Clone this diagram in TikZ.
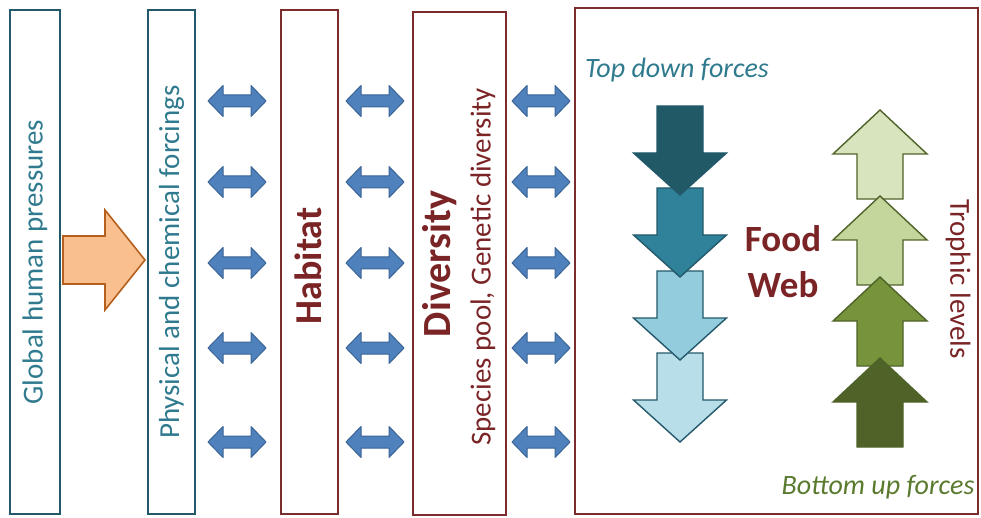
\documentclass[tikz,border=0pt]{standalone}
\usepackage{fontspec}
\setmainfont{Carlito}
\definecolor{boxteal}{HTML}{23596A}
\definecolor{txtteal}{HTML}{2F7A8E}
\definecolor{boxred}{HTML}{7B2C2C}
\definecolor{txtred}{HTML}{7A2426}
\definecolor{dblfill}{HTML}{4F81BD}
\definecolor{dblline}{HTML}{3A6496}
\definecolor{orfill}{HTML}{F9BF8F}
\definecolor{orline}{HTML}{B5601E}
\definecolor{dA}{HTML}{215967}
\definecolor{dB}{HTML}{2F8299}
\definecolor{dC}{HTML}{93CDDD}
\definecolor{dD}{HTML}{B8DFE9}
\definecolor{uA}{HTML}{D8E4BD}
\definecolor{uB}{HTML}{C3D69B}
\definecolor{uC}{HTML}{77933C}
\definecolor{uD}{HTML}{4F6228}
\definecolor{txtgreen}{HTML}{5A7A2E}
\begin{document}
\begin{tikzpicture}[x=1pt,y=-1pt,
  tealbox/.style={draw=boxteal, line width=2.4pt, inner sep=0pt, text=txtteal, font=\fontsize{29}{34}\selectfont},
  redbox/.style={draw=boxred, line width=2.4pt, inner sep=0pt},
  lbl/.style={inner sep=0pt},
  dbl/.pic={\draw[fill=dblfill, draw=dblline, line width=1pt, line join=round]
    (-29,0) -- (-14,-15.5) -- (-14,-6) -- (14,-6) -- (14,-15.5) -- (29,0)
    -- (14,15.5) -- (14,6) -- (-14,6) -- (-14,15.5) -- cycle;},
  darr/.pic={\draw[fill=#1, draw=boxteal, line width=1.4pt, line join=miter]
    (-23,0) -- (23,0) -- (23,47) -- (46.5,47) -- (0,89) -- (-46.5,47) -- (-23,47) -- cycle;},
  uarr/.pic={\draw[fill=#1, draw=uD, line width=1.4pt, line join=miter]
    (0,0) -- (47,44) -- (23,44) -- (23,89) -- (-23,89) -- (-23,44) -- (-47,44) -- cycle;}
]
\useasboundingbox (0,0) rectangle (981,518);

% boxes
\node[tealbox, rotate=90, minimum width=504, minimum height=50] (ghp) at (35,262) {Global human pressures};
\node[tealbox, rotate=90, minimum width=504, minimum height=47] (pcf) at (171.5,262) {Physical and chemical forcings};
\node[redbox, minimum width=57, minimum height=504] (hab) at (309.5,262) {};
\node[redbox, minimum width=93, minimum height=503] (div) at (459.5,263.5) {};
\node[redbox, minimum width=403, minimum height=506] (fw) at (776.5,261) {};

\node[lbl, rotate=90, text=txtred, font=\fontsize{38}{44}\selectfont\bfseries] (habt) at (308,266) {Habitat};
\node[lbl, rotate=90, text=txtred, font=\fontsize{40}{46}\selectfont\bfseries] (divt) at (440,264) {Diversity};
\node[lbl, rotate=90, text=txtred, font=\fontsize{29}{34}\selectfont] (spt) at (483,267) {Species pool, Genetic diversity};

% orange arrow
\draw[fill=orfill, draw=orline, line width=1.6pt, line join=miter]
  (63,236) -- (105,236) -- (105,210) -- (145,260) -- (105,310) -- (105,284) -- (63,284) -- cycle;

% double arrows
\foreach \yy in {101,182,263,348,442}{
  \pic at (237,\yy) {dbl};
  \pic at (375,\yy) {dbl};
  \pic at (541,\yy) {dbl};
}

% food web
\pic at (680,353) {darr=dD};
\pic at (680,271) {darr=dC};
\pic at (680,188) {darr=dB};
\pic at (680,106) {darr=dA};

\pic at (880,110) {uarr=uA};
\pic at (880,196) {uarr=uB};
\pic at (880,277) {uarr=uC};
\pic at (880,358) {uarr=uD};

\node[lbl, text=txtteal, font=\fontsize{28}{32}\selectfont\itshape] (tdf) at (677,70) {Top down forces};
\node[lbl, text=txtgreen, font=\fontsize{28}{32}\selectfont\itshape] (buf) at (878,487) {Bottom up forces};
\node[lbl, text=txtred, align=center, font=\fontsize{37}{46}\selectfont\bfseries] (fwt) at (783,262) {Food\\Web};
\node[lbl, rotate=-90, text=txtred, font=\fontsize{29}{34}\selectfont] (trl) at (958,279) {Trophic levels};
\end{tikzpicture}
\end{document}
